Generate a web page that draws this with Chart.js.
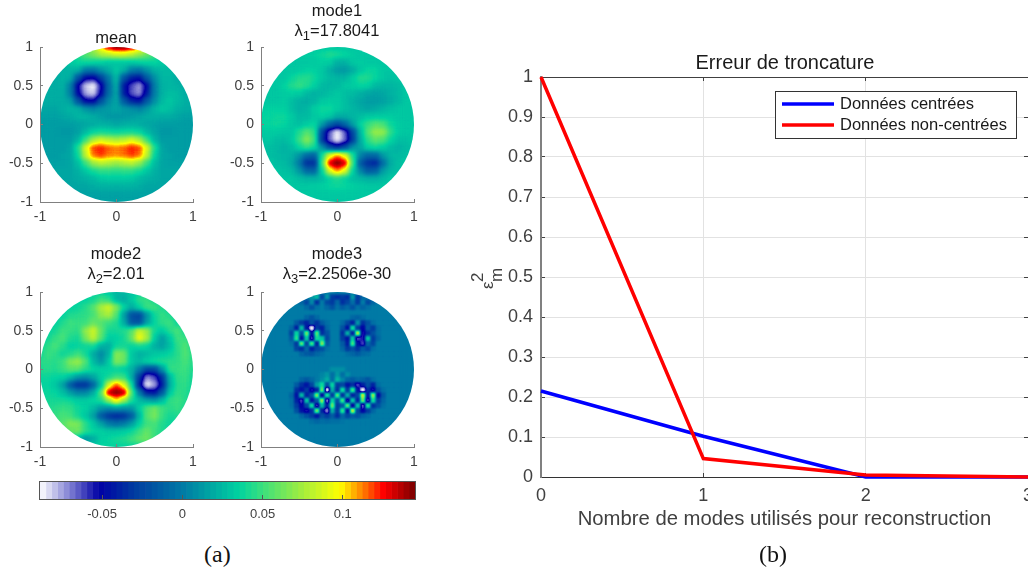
<!DOCTYPE html>
<html>
<head>
<meta charset="utf-8">
<title>Modes et erreur de troncature</title>
<script src="https://cdn.jsdelivr.net/npm/chart.js"></script>
<style>
  html, body { margin: 0; background: #fff; width: 1028px; height: 573px; overflow: hidden; }
  canvas { position: absolute; }
  .caption { position: absolute; top: 541px; font: 24px "Liberation Serif", serif; color: #111; }
  .head { position: absolute; width: 200px; text-align: center; font: 16.5px/20px "Liberation Sans", sans-serif; color: #1a1a1a; }
  .head sub { font-size: 13px; line-height: 0; vertical-align: -4px; }
</style>
</head>
<body>
<canvas id="mean" width="210" height="227" style="left:0;top:0"></canvas>
<canvas id="mode1" width="210" height="227" style="left:221px;top:0"></canvas>
<canvas id="mode2" width="210" height="229" style="left:0;top:243px"></canvas>
<canvas id="mode3" width="210" height="229" style="left:221px;top:243px"></canvas>
<canvas id="barra" width="420" height="59" style="left:20px;top:470px"></canvas>
<canvas id="erreur" width="650" height="505" style="left:460px;top:40px"></canvas>
<div class="head" style="left:16px;top:27px">mean</div>
<div class="head" style="left:237px;top:0">mode1<br>λ<sub>1</sub>=17.8041</div>
<div class="head" style="left:16px;top:243px">mode2<br>λ<sub>2</sub>=2.01</div>
<div class="head" style="left:237px;top:243px">mode3<br>λ<sub>3</sub>=2.2506e-30</div>
<div class="caption" style="left:204px">(a)</div>
<div class="caption" style="left:759px">(b)</div>
<script>
// heat values, in thousandths, rows from y=1 down to y=-1
const meanValues = [
  [20,20,20,20,20,20,45,75,105,130,145,145,135,115,90,60,30,20,20,20,20],
  [20,20,20,20,35,45,55,65,75,80,85,85,80,70,60,50,35,20,20,20,20],
  [20,20,20,20,32,36,38,36,34,30,30,30,30,34,36,36,32,25,20,20,20],
  [20,20,20,22,24,22,0,-2,10,20,30,22,2,-2,10,22,26,26,20,20,20],
  [20,20,20,22,20,-18,-48,-52,-28,0,26,-18,-40,-45,-15,8,24,24,20,20,20],
  [20,20,20,22,2,-52,-80,-88,-55,-8,20,-42,-62,-74,-48,2,22,24,22,20,20],
  [20,20,20,20,2,-48,-76,-82,-50,-6,18,-40,-64,-72,-42,2,22,28,26,20,20],
  [20,20,20,20,16,-18,-48,-50,-20,6,18,-15,-38,-44,-15,8,26,30,26,22,20],
  [18,18,18,20,24,22,10,6,10,14,18,12,8,4,12,24,30,28,22,20,18],
  [16,16,16,18,20,24,24,20,16,12,12,12,14,18,20,22,20,20,18,16,16],
  [14,14,14,14,14,16,18,20,22,20,18,20,22,20,18,16,14,14,14,14,14],
  [14,14,14,12,12,16,26,36,40,38,36,38,40,36,26,18,12,12,14,14,14],
  [14,14,14,14,14,24,50,75,85,80,75,80,88,75,50,24,14,14,14,14,14],
  [14,14,14,14,18,42,88,118,123,116,112,116,123,118,88,42,18,14,14,14,14],
  [14,14,14,16,18,38,82,114,120,112,110,114,120,114,82,36,18,16,14,14,14],
  [16,16,16,16,18,28,50,72,80,76,72,76,80,70,48,28,18,16,16,16,16],
  [18,18,18,18,18,22,30,40,46,46,44,46,46,40,30,22,18,18,18,18,18],
  [18,18,18,18,18,20,22,26,30,32,32,32,30,26,22,20,18,18,18,18,18],
  [18,18,18,18,18,18,18,20,22,22,22,22,22,20,18,18,18,18,18,18,18],
  [16,16,16,16,16,16,16,16,16,16,16,16,16,16,16,16,16,16,16,16,16],
  [16,16,16,16,16,16,16,16,16,16,16,16,16,16,16,16,16,16,16,16,16]
];
const mode1Values = [
  [30,30,30,30,30,30,30,30,30,30,30,30,30,30,30,30,30,30,30,30,30],
  [30,30,30,30,30,30,32,34,38,42,40,36,32,30,30,30,30,30,30,30,30],
  [30,30,30,30,30,30,30,32,34,32,22,22,30,32,30,30,30,30,30,30,30],
  [30,30,30,30,30,32,34,34,30,22,14,12,20,30,36,36,30,30,30,30,30],
  [30,30,30,30,36,42,44,38,30,26,24,24,32,42,42,36,30,28,30,30,30],
  [30,30,30,34,42,48,42,34,26,24,26,30,32,36,34,26,24,24,26,30,30],
  [30,30,30,32,34,32,26,22,24,28,30,28,26,22,18,16,18,22,26,30,30],
  [30,30,30,32,28,22,20,24,30,32,32,28,22,18,14,14,16,20,26,30,30],
  [34,34,34,34,28,22,24,32,38,38,32,28,24,20,18,20,24,28,30,30,30],
  [36,36,38,38,32,26,26,30,34,30,20,20,24,28,30,32,32,32,30,30,30],
  [36,36,38,36,30,28,32,36,14,-10,-25,-10,14,34,48,56,52,38,32,30,30],
  [32,32,32,30,30,42,55,45,-25,-66,-88,-66,-25,25,55,72,70,45,32,30,30],
  [30,30,28,26,30,48,68,50,-30,-68,-88,-68,-30,20,46,58,52,36,28,28,30],
  [28,28,26,22,26,36,46,38,10,-20,-35,-20,10,18,34,38,32,26,22,26,28],
  [30,28,26,24,22,10,-8,-12,40,90,112,92,42,5,-10,-8,12,24,26,28,30],
  [30,30,28,26,20,0,-35,-35,50,130,148,132,52,-15,-35,-38,-5,20,28,30,30],
  [30,30,30,28,26,12,-8,-10,34,88,112,90,36,5,-15,-12,14,24,28,30,30],
  [30,30,30,30,30,28,24,24,28,36,42,36,28,26,22,22,26,30,30,30,30],
  [30,30,30,30,30,30,30,32,34,36,38,36,34,32,30,30,30,30,30,30,30],
  [30,30,30,30,30,30,30,30,30,30,30,30,30,30,30,30,30,30,30,30,30],
  [30,30,30,30,30,30,30,30,30,30,30,30,30,30,30,30,30,30,30,30,30]
];
const mode2Values = [
  [35,35,35,35,35,35,35,35,35,30,25,25,30,35,35,35,35,35,35,35,35],
  [35,35,35,35,35,35,35,40,50,45,25,20,30,45,48,40,35,35,35,35,35],
  [35,35,35,35,35,38,44,55,75,85,65,35,20,35,50,50,42,35,35,35,35],
  [35,35,35,35,42,44,46,52,68,75,55,15,-20,-25,10,38,48,42,35,35,35],
  [35,35,35,42,50,48,50,60,55,48,42,20,-15,-20,15,36,46,50,38,35,35],
  [35,35,40,50,48,46,70,85,60,40,40,42,55,85,72,40,32,44,52,40,35],
  [35,38,48,52,42,40,64,82,56,32,34,40,60,95,75,32,14,30,50,50,35],
  [36,46,52,44,34,36,38,40,22,20,38,40,36,40,36,22,16,28,46,54,40],
  [40,48,46,38,42,50,40,20,6,22,68,62,30,22,26,30,32,36,44,54,44],
  [44,46,44,50,66,72,54,26,12,30,66,60,30,26,34,40,42,44,46,52,44],
  [42,44,42,48,56,56,44,36,34,34,36,32,22,0,-25,-25,10,46,48,50,42],
  [38,38,36,34,26,12,8,18,32,40,50,48,20,-30,-72,-62,-32,25,46,48,40],
  [36,36,30,16,-15,-35,-35,-10,28,85,118,90,40,-42,-88,-76,-42,20,44,46,38],
  [36,38,36,28,14,4,6,20,55,135,148,137,55,0,-40,-45,-15,30,46,44,36],
  [38,40,40,40,38,32,32,36,42,72,102,74,42,26,18,12,26,46,50,44,36],
  [40,42,44,48,46,38,34,26,12,8,14,10,12,32,52,62,50,44,48,42,36],
  [42,44,48,52,50,40,30,16,-15,-32,-38,-35,-15,24,55,64,48,40,42,38,36],
  [40,44,48,56,66,64,44,30,16,0,-5,0,14,34,50,52,42,38,36,36,36],
  [36,40,44,54,58,62,44,36,34,30,30,32,38,50,60,50,42,36,36,36,36],
  [36,36,36,36,36,24,10,20,34,36,40,42,50,58,62,50,40,36,36,36,36],
  [36,36,36,36,36,36,36,36,36,36,36,36,36,36,36,36,36,36,36,36,36]
];
const mode3Values = [
  [0,0,0,0,0,0,0,0,0,0,0,0,0,0,0,0,0,0,0,0,0,0,0,0,0,0,0,0,0,0,0],
  [0,0,0,0,0,0,0,0,0,0,10,25,-25,10,-30,-35,-30,-35,10,-30,-10,0,0,0,0,0,0,0,0,0,0],
  [0,0,0,0,0,0,0,0,-10,-25,5,-35,0,-25,-30,-10,-35,-25,-5,-30,0,-25,-10,0,0,0,0,0,0,0,0],
  [0,0,0,0,0,0,0,0,0,-8,-20,-5,0,-10,-20,-5,-15,-8,-20,-5,-12,-5,0,0,0,0,0,0,0,0,0],
  [0,0,0,0,0,0,0,0,0,0,0,0,0,0,0,0,0,0,0,0,0,0,0,0,0,0,0,0,0,0,0],
  [0,0,0,0,0,0,0,0,0,-10,-18,-8,0,0,0,0,0,0,-8,-12,-5,0,0,0,0,0,0,0,0,0,0],
  [0,0,0,0,0,0,0,-15,-30,-40,-20,-35,-15,-5,0,0,-8,-25,-40,10,-35,-20,-5,0,0,0,0,0,0,0,0],
  [0,0,0,0,0,0,-10,-40,25,-45,-88,-30,-40,-10,0,0,-20,-45,40,-30,-50,-15,-30,-5,0,0,0,0,0,0,0],
  [0,0,0,0,0,0,-25,35,-20,60,-45,55,-35,-20,0,0,-35,20,-40,75,-55,-35,-20,-5,0,0,0,0,0,0,0],
  [0,0,0,0,0,0,-15,45,-45,30,-60,40,30,-25,0,0,-30,-45,30,-60,-55,30,-30,-10,0,0,0,0,0,0,0],
  [0,0,0,0,0,0,-5,-30,55,-25,50,-40,65,-15,0,0,-15,-40,50,-45,-60,-10,-25,0,0,0,0,0,0,0,0],
  [0,0,0,0,0,0,0,-25,-35,-10,-40,-25,-20,-5,0,0,-10,-30,-20,-35,-15,-25,-5,0,0,0,0,0,0,0,0],
  [0,0,0,0,0,0,0,0,-10,-15,-18,-10,-5,0,0,0,0,-5,-10,-15,-8,-5,0,0,0,0,0,0,0,0,0],
  [0,0,0,0,0,0,0,0,0,0,0,0,0,0,0,0,0,0,0,0,0,0,0,0,0,0,0,0,0,0,0],
  [0,0,0,0,0,0,0,0,0,0,0,0,0,0,0,0,0,0,0,0,0,0,0,0,0,0,0,0,0,0,0],
  [0,0,0,0,0,0,0,0,0,0,0,0,0,0,8,8,8,0,0,0,0,0,0,0,0,0,0,0,0,0,0],
  [0,0,0,0,0,0,0,0,0,0,0,0,5,12,-5,12,-5,8,0,0,0,0,0,0,0,0,0,0,0,0,0],
  [0,0,0,0,0,0,0,0,-10,-15,-8,0,8,20,-5,25,5,-10,-15,-8,-12,-18,-5,0,0,0,0,0,0,0,0],
  [0,0,0,0,0,0,0,-15,-35,-45,-25,15,40,-20,35,-30,-25,-45,-35,-60,-40,-20,-40,-5,0,0,0,0,0,0,0],
  [0,0,0,0,0,0,0,-35,-45,-30,-55,-40,60,-88,20,-35,40,-30,50,-45,-88,-35,-55,-20,-5,0,0,0,0,0,0],
  [0,0,0,0,0,0,-10,-45,25,-40,-20,65,-50,45,-30,55,-35,20,-40,-25,80,-45,70,-50,-15,0,0,0,0,0,0],
  [0,0,0,0,0,0,-5,-40,-60,30,-45,-15,70,-70,35,-20,50,-55,30,-40,60,-60,40,-30,-10,0,0,0,0,0,0],
  [0,0,0,0,0,0,-5,-30,-50,-25,40,-60,25,-40,60,-30,-15,55,-50,30,-65,45,-35,-20,-5,0,0,0,0,0,0],
  [0,0,0,0,0,0,0,-20,-45,-55,-35,60,-40,-70,20,-30,45,-45,75,-25,-50,-30,-10,0,0,0,0,0,0,0,0],
  [0,0,0,0,0,0,0,0,-10,-20,-30,-45,-20,-30,-15,-35,-10,-25,-15,-20,-10,-5,0,0,0,0,0,0,0,0,0],
  [0,0,0,0,0,0,0,0,0,0,-5,-10,-5,-8,-5,-5,-3,0,0,0,0,0,0,0,0,0,0,0,0,0,0],
  [0,0,0,0,0,0,0,0,0,0,0,0,0,0,0,0,0,0,0,0,0,0,0,0,0,0,0,0,0,0,0],
  [0,0,0,0,0,0,0,0,0,0,0,0,0,0,0,0,0,0,0,0,0,0,0,0,0,0,0,0,0,0,0],
  [0,0,0,0,0,0,0,0,0,0,0,0,0,0,0,0,0,0,0,0,0,0,0,0,0,0,0,0,0,0,0],
  [0,0,0,0,0,0,0,0,0,0,0,0,0,0,0,0,0,0,0,0,0,0,0,0,0,0,0,0,0,0,0],
  [0,0,0,0,0,0,0,0,0,0,0,0,0,0,0,0,0,0,0,0,0,0,0,0,0,0,0,0,0,0,0]
];

const heatXTicks = [-1, 0, 1];
const heatYTicks = [-1, -0.5, 0, 0.5, 1];
const barTicks = [-0.05, 0, 0.05, 0.1];
const barMin = -0.0887;
const barMax = 0.145;
const barLevels = 64;
const stopValues = [-0.0887, -0.052, -0.03, 0, 0.035, 0.05, 0.075, 0.098, 0.112, 0.125, 0.145];
const stopColors = [[255,255,255],[0,0,165],[0,60,160],[0,122,165],[0,210,160],[60,224,125],[165,238,60],[255,255,0],[255,128,0],[255,0,0],[120,0,0]];

const modeles = [0, 1, 2, 3];
const centrees = [0.215, 0.102, 0, 0];
const nonCentrees = [1, 0.046, 0.005, 0];
const lineYTicks = [0, 0.1, 0.2, 0.3, 0.4, 0.5, 0.6, 0.7, 0.8, 0.9, 1];

const sans = '"Liberation Sans", Arial, sans-serif';
const tickText = '#404040';
const axisGray = '#808080';

function colorAt(v) {
  let i = 0;
  while (i < stopValues.length - 2 && v > stopValues[i + 1]) i++;
  const t = Math.min(1, Math.max(0, (v - stopValues[i]) / (stopValues[i + 1] - stopValues[i])));
  return stopColors[i].map((c, n) => Math.round(c + (stopColors[i + 1][n] - c) * t));
}

const lut = [];
for (let g = 0; g < 256; g++) lut.push(colorAt(barMin + g / 255 * (barMax - barMin)));

// cells are painted as gray levels, smoothed, then coloured and cut to the disc
const discPlugin = {
  id: 'disc',
  afterDatasetsDraw(chart, args, opts) {
    const a = chart.chartArea, w = a.right - a.left, h = a.bottom - a.top;
    const off = document.createElement('canvas');
    off.width = w; off.height = h;
    const g = off.getContext('2d');
    g.drawImage(chart.canvas, a.left, a.top, w, h, 0, 0, w, h);
    g.filter = 'blur(' + opts.blur + 'px)';
    g.drawImage(chart.canvas, a.left, a.top, w, h, 0, 0, w, h);
    g.filter = 'none';
    const img = g.getImageData(0, 0, w, h);
    for (let i = 0; i < img.data.length; i += 4) {
      const c = lut[img.data[i]];
      img.data[i] = c[0]; img.data[i + 1] = c[1]; img.data[i + 2] = c[2]; img.data[i + 3] = 255;
    }
    g.putImageData(img, 0, 0);
    const ctx = chart.ctx, sx = chart.scales.x, sy = chart.scales.y;
    const cx = sx.getPixelForValue(0), cy = sy.getPixelForValue(0);
    ctx.clearRect(a.left, a.top, w, h);
    ctx.save();
    ctx.beginPath();
    ctx.ellipse(cx, cy, sx.getPixelForValue(1) - cx, cy - sy.getPixelForValue(1), 0, 0, Math.PI * 2);
    ctx.clip();
    ctx.drawImage(off, a.left, a.top);
    ctx.restore();
  }
};

function fixedTicks(values) {
  return s => { s.ticks = values.map(v => ({ value: v })); };
}

function heatAxis(size, horizontal) {
  return {
    type: 'linear', min: -1, max: 1,
    afterBuildTicks: fixedTicks(horizontal ? heatXTicks : heatYTicks),
    afterFit: s => { if (horizontal) s.height = size; else s.width = size; },
    border: { color: axisGray, z: 1 },
    grid: { drawOnChartArea: false, tickLength: -3, color: axisGray, z: 1 },
    ticks: {
      maxRotation: 0, autoSkip: false, color: tickText, padding: 10, z: 1,
      font: { family: sans, size: 14 }, callback: v => String(v)
    }
  };
}

function heatPanel(id, values, blur, top) {
  const n = values.length;
  const pts = [], cols = [];
  values.forEach((row, j) => row.forEach((v, k) => {
    pts.push({ x: -1 + 2 * k / (n - 1), y: 1 - 2 * j / (n - 1) });
    const g = Math.round(255 * (v / 1000 - barMin) / (barMax - barMin));
    cols.push('rgb(' + g + ',' + g + ',' + g + ')');
  }));
  new Chart(document.getElementById(id), {
    type: 'scatter',
    data: { datasets: [{
      data: pts, pointStyle: 'rect', pointRadius: 153 / (n - 1) * 0.75,
      pointBorderWidth: 0, pointBackgroundColor: cols
    }] },
    plugins: [discPlugin],
    options: {
      responsive: false, animation: false, events: [],
      layout: { autoPadding: false, padding: { right: 17, top: top } },
      scales: { x: heatAxis(25, true), y: heatAxis(40, false) },
      plugins: { legend: { display: false }, tooltip: { enabled: false }, disc: { blur: blur } }
    }
  });
}

heatPanel('mean', meanValues, 2.7, 47);
heatPanel('mode1', mode1Values, 2.7, 47);
heatPanel('mode2', mode2Values, 2.7, 49);
heatPanel('mode3', mode3Values, 1.1, 49);

// colour bar
const framePlugin = {
  id: 'frame',
  afterDraw(chart) {
    const a = chart.chartArea, ctx = chart.ctx;
    ctx.save();
    ctx.strokeStyle = '#555';
    ctx.lineWidth = 1;
    ctx.strokeRect(a.left - 0.5, a.top - 0.5, a.right - a.left + 1, a.bottom - a.top + 1);
    ctx.restore();
  }
};

const barSets = [];
for (let i = 0; i < barLevels; i++) {
  const lo = barMin + (barMax - barMin) * i / barLevels;
  const hi = barMin + (barMax - barMin) * (i + 1) / barLevels;
  const c = colorAt((lo + hi) / 2);
  barSets.push({
    data: [[lo, hi]], backgroundColor: 'rgb(' + c.join(',') + ')', borderWidth: 0,
    barPercentage: 1, categoryPercentage: 1, grouped: false
  });
}
new Chart(document.getElementById('barra'), {
  type: 'bar',
  data: { labels: [''], datasets: barSets },
  plugins: [framePlugin],
  options: {
    indexAxis: 'y', responsive: false, animation: false, events: [],
    layout: { autoPadding: false, padding: { left: 20, right: 25, top: 12 } },
    scales: {
      y: { display: false },
      x: {
        type: 'linear', min: barMin, max: barMax,
        afterBuildTicks: fixedTicks(barTicks),
        afterFit: s => { s.height = 30; },
        border: { display: false },
        grid: { drawOnChartArea: false, tickLength: -4, color: '#555', z: 1 },
        ticks: {
          maxRotation: 0, autoSkip: false, color: tickText, padding: 12,
          font: { family: sans, size: 13 }, callback: v => String(v)
        }
      }
    },
    plugins: { legend: { display: false }, tooltip: { enabled: false } }
  }
});

// legend box sits inside the plot, y label has a stacked super and subscript
const legendBox = {
  id: 'legendBox',
  afterDraw(chart, args, o) {
    const ctx = chart.ctx;
    ctx.save();
    ctx.fillStyle = '#fff';
    ctx.strokeStyle = '#333';
    ctx.lineWidth = 1;
    ctx.fillRect(o.left, o.top, o.right - o.left, o.bottom - o.top);
    ctx.strokeRect(o.left + 0.5, o.top + 0.5, o.right - o.left, o.bottom - o.top);
    chart.data.datasets.forEach((d, i) => {
      const y = o.top + 13 + i * 21;
      ctx.strokeStyle = d.borderColor;
      ctx.lineWidth = 3.5;
      ctx.beginPath();
      ctx.moveTo(o.left + 7, y);
      ctx.lineTo(o.left + 59, y);
      ctx.stroke();
      ctx.fillStyle = '#1a1a1a';
      ctx.font = '16.5px ' + sans;
      ctx.textBaseline = 'middle';
      ctx.fillText(d.label, o.left + 65, y);
    });
    ctx.restore();
    ctx.save();
    ctx.translate(33, 249);
    ctx.rotate(-Math.PI / 2);
    ctx.fillStyle = tickText;
    ctx.font = '17px ' + sans;
    ctx.textBaseline = 'alphabetic';
    ctx.fillText('ε', 0, 0);
    ctx.fillText('2', 7, -10);
    ctx.fillText('m', 7, 9);
    ctx.restore();
  }
};

function sideAxis(position, size) {
  const horizontal = position === 'top';
  return {
    type: 'linear', position: position, min: 0, max: horizontal ? 3 : 1,
    afterBuildTicks: fixedTicks(horizontal ? modeles : lineYTicks),
    afterFit: s => { if (horizontal) s.height = size; else s.width = size; },
    border: { color: '#404040' },
    grid: { drawOnChartArea: false, tickLength: -4, color: '#404040' },
    ticks: { display: false }
  };
}

new Chart(document.getElementById('erreur'), {
  type: 'line',
  data: {
    labels: modeles,
    datasets: [
      { label: 'Données centrées', data: modeles.map((m, i) => ({ x: m, y: centrees[i] })), borderColor: '#0000ff', borderWidth: 3.5, pointRadius: 0, tension: 0, order: 1, clip: 4 },
      { label: 'Données non-centrées', data: modeles.map((m, i) => ({ x: m, y: nonCentrees[i] })), borderColor: '#ff0000', borderWidth: 3.5, pointRadius: 0, tension: 0, order: 0, clip: 4 }
    ]
  },
  plugins: [legendBox],
  options: {
    responsive: false, animation: false, events: [],
    layout: { autoPadding: false, padding: 0 },
    scales: {
      x: {
        type: 'linear', min: 0, max: 3,
        afterBuildTicks: fixedTicks(modeles),
        afterFit: s => { s.height = 68; },
        border: { color: '#333' },
        grid: { color: '#e2e2e2', tickColor: '#404040', tickLength: -4 },
        ticks: { maxRotation: 0, autoSkip: false, color: tickText, padding: 12, font: { family: sans, size: 18 }, callback: v => String(v) },
        title: { display: true, text: 'Nombre de modes utilisés pour reconstruction', color: tickText, font: { family: sans, size: 20.3 }, padding: { top: 0, bottom: 13 } }
      },
      y: {
        type: 'linear', min: 0, max: 1,
        afterBuildTicks: fixedTicks(lineYTicks),
        afterFit: s => { s.width = 81; },
        border: { color: axisGray, width: 2 },
        grid: { color: '#e2e2e2', tickColor: '#404040', tickLength: -4 },
        ticks: { autoSkip: false, color: tickText, padding: 12, font: { family: sans, size: 18 }, callback: v => String(v) }
      },
      x2: sideAxis('top', 0),
      y2: sideAxis('right', 82)
    },
    plugins: {
      legend: { display: false }, tooltip: { enabled: false },
      legendBox: { left: 315, top: 51, right: 556, bottom: 98 },
      title: {
        display: true, text: 'Erreur de troncature', color: '#1a1a1a', padding: { top: 11, bottom: 2 },
        font: { family: sans, size: 20, weight: 'normal' }
      }
    }
  }
});
</script>
</body>
</html>
